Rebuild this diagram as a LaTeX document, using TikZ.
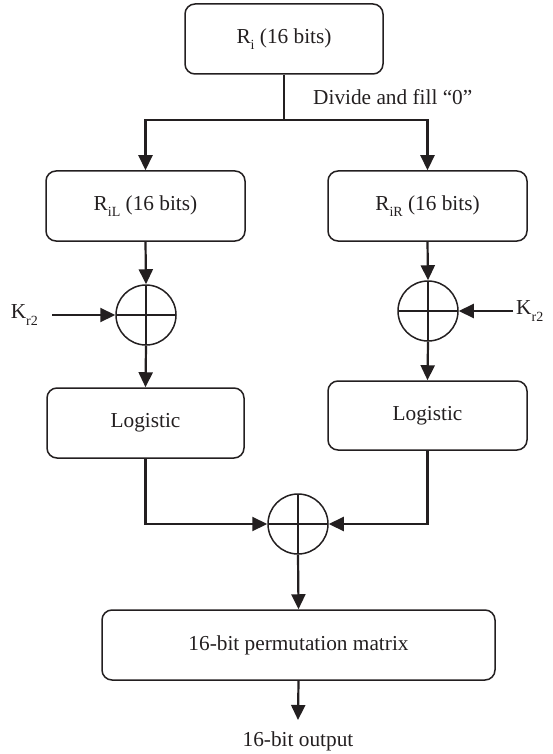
\documentclass[tikz,border=0pt]{standalone}
\usepackage{fontspec}
\setmainfont{Liberation Serif}
\usetikzlibrary{arrows.meta}
\definecolor{ink}{RGB}{35,31,32}
\newcommand{\sbs}[1]{\raisebox{-0.3em}{\fontsize{14}{16}\selectfont #1}}
\begin{document}
\begin{tikzpicture}[x=1pt,y=-1pt,
  every node/.style={font=\fontsize{21.3}{25}\selectfont, text=ink},
  box/.style={draw=ink, line width=1.5pt, rounded corners=10pt, minimum height=70pt, inner sep=0pt},
  xorop/.style={draw=ink, circle, line width=1.5pt, minimum size=60pt, inner sep=0pt,
    path picture={\draw[ink, line width=1.5pt] (path picture bounding box.north) -- (path picture bounding box.south)
      (path picture bounding box.west) -- (path picture bounding box.east);}},
  flow/.style={draw=ink, line width=2.2pt, -{Triangle[length=15pt,width=14pt]}},
  wire/.style={draw=ink, line width=2.2pt}]
\useasboundingbox (0,0) rectangle (552,754);

\node[box, minimum width=198pt] (ri) at (284,39) {R\sbs{i} (16 bits)};
\node[box, minimum width=199pt] (ril) at (145.5,206) {R\sbs{iL} (16 bits)};
\node[box, minimum width=199pt] (rir) at (427.5,206) {R\sbs{iR} (16 bits)};
\node[xorop] (xl) at (146,315) {};
\node[xorop] (xr) at (428,311) {};
\node[box, minimum width=197pt] (logl) at (145.5,423) {Logistic};
\node[box, minimum width=199pt, minimum height=69pt] (logr) at (427.5,415.5) {Logistic};
\node[xorop] (xb) at (298,524) {};
\node[box, minimum width=393pt] (perm) at (298.5,645) {16-bit permutation matrix};

\node[anchor=west, inner sep=0pt] (div) at (313,97) {Divide and fill “0”};
\node[anchor=east, inner xsep=14pt, inner ysep=0pt] (kl) at (52,315) {K\sbs{r2}};
\node[anchor=west, inner xsep=3pt, inner ysep=0pt] (kr) at (513,311) {K\sbs{r2}};
\node[anchor=north, inner xsep=0pt, inner ysep=12pt] (out) at (298,720) {16-bit output};

\coordinate (split) at (284,120);

\draw[wire] (ri.south) -- (split);
\draw[flow] (split) -| (ril.north);
\draw[flow] (split) -| (rir.north);
\draw[flow] (ril.south) -- (xl.north);
\draw[flow] (rir.south) -- (xr.north);
\draw[flow] (kl.east) -- (xl.west);
\draw[flow] (kr.west) -- (xr.east);
\draw[flow] (xl.south) -- (logl.north);
\draw[flow] (xr.south) -- (logr.north);
\draw[flow] (logl.south) |- (xb.west);
\draw[flow] (logr.south) |- (xb.east);
\draw[flow] (xb.south) -- (perm.north);
\draw[flow] (perm.south) -- (out.north);
\end{tikzpicture}
\end{document}
